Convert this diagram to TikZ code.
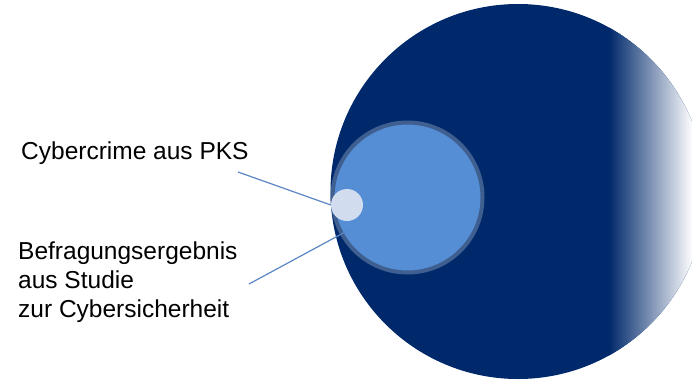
\documentclass[tikz,border=0pt]{standalone}
\usepackage{fontspec}
\setmainfont{Liberation Sans}
\definecolor{navy}{HTML}{00296B}
\definecolor{midblue}{HTML}{558ED5}
\definecolor{ringblue}{HTML}{3E5F90}
\definecolor{paleblue}{HTML}{D1DCEE}
\definecolor{lineblue}{HTML}{5A86C3}
\tikzset{
  lbl/.style={anchor=base west, inner sep=0pt, font=\fontsize{24.5}{29}\selectfont, text=black},
  conn/.style={draw=lineblue, line width=1.2pt}
}
\begin{document}
\begin{tikzpicture}[x=1pt,y=-1pt]
\useasboundingbox (0,0) rectangle (692,380);
\node (big) [circle, inner sep=0pt, minimum size=375pt, fill=navy] at (518,191.5) {};
\begin{scope}
  \clip (big.center) circle (187.5pt);
  \shade[left color=navy, right color=white] (609,-10) rectangle (693,400);
  \fill[white] (692,-10) rectangle (720,400);
\end{scope}
\node (inner) [circle, inner sep=0pt, minimum size=150pt, fill=midblue, draw=ringblue, line width=4pt] at (407.5,197.5) {};
\node (small) [circle, inner sep=0pt, minimum size=32pt, fill=paleblue] at (347,205) {};
\node (t1) [lbl] at (21,159) {Cybercrime aus PKS};
\node (t2) [lbl, align=left] at (18,317) {Befragungsergebnis\\aus Studie\\zur Cybersicherheit};
\coordinate (a1) at (238,172);
\coordinate (a2) at (249,284);
\coordinate (e2) at (347,231);
\draw[conn] (a1) -- (small.west);
\draw[conn] (a2) -- (e2);
\end{tikzpicture}
\end{document}
